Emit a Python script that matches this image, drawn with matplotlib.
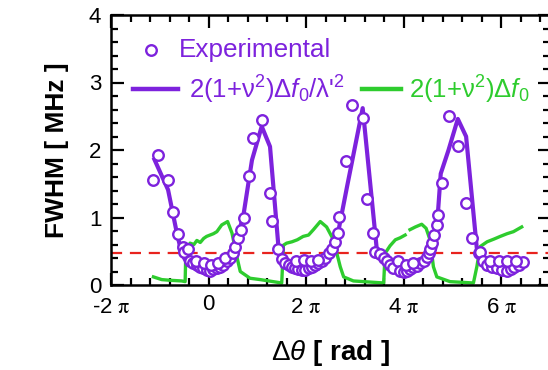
import numpy as np
import matplotlib
matplotlib.use("Agg")
import matplotlib.pyplot as plt
from matplotlib.ticker import MultipleLocator, FixedLocator

plt.rcParams['font.family'] = ['Liberation Sans', 'DejaVu Sans']
plt.rcParams['mathtext.fontset'] = 'custom'
plt.rcParams['mathtext.rm'] = 'Liberation Sans'
plt.rcParams['mathtext.it'] = 'Liberation Sans:italic'
plt.rcParams['mathtext.bf'] = 'Liberation Sans:bold'

PURPLE = '#7d22dd'
GREEN = '#2ecc2e'
RED = '#e8231e'

# ---- data (x in units of pi rad) ----
x_exp = [-1.13, -1.03, -0.84, -0.72, -0.62, -0.53, -0.50, -0.43,
         -0.38, -0.31, -0.24, -0.17, -0.11, -0.04, 0.03, 0.10, 0.17, 0.24, 0.30, 0.37, 0.44,
         -0.25, -0.10, 0.05, 0.20, 0.33,
         0.50, 0.54, 0.60, 0.66, 0.73, 0.83, 0.92, 1.10, 1.26, 1.31, 1.43,
         1.50, 1.57, 1.64, 1.71, 1.77, 1.84, 1.91, 1.98, 2.05, 2.12, 2.19, 2.25, 2.32, 2.39,
         1.80, 1.95, 2.10, 2.25,
         2.46, 2.53, 2.60, 2.65, 2.68, 2.81, 2.94, 3.16, 3.25, 3.37, 3.42, 3.52,
         3.59, 3.66, 3.72, 3.79, 3.89, 3.93, 4.00, 4.07, 4.13, 4.20, 4.27, 4.34, 4.41, 4.48,
         4.05, 4.20,
         4.51, 4.54, 4.58, 4.63, 4.68, 4.70, 4.78, 4.93, 5.12, 5.28, 5.40, 5.54,
         5.56, 5.62, 5.71, 5.81, 5.91, 6.01, 6.12, 6.20, 6.27, 6.36, 6.45,
         5.78, 5.95, 6.12, 6.30]
y_exp = [1.56, 1.92, 1.56, 1.08, 0.75, 0.57, 0.49, 0.54,
         0.35, 0.32, 0.30, 0.27, 0.25, 0.22, 0.21, 0.23, 0.25, 0.27, 0.30, 0.35, 0.40,
         0.36, 0.33, 0.30, 0.33, 0.40,
         0.47, 0.56, 0.70, 0.82, 0.99, 1.62, 2.18, 2.44, 1.36, 0.95, 0.54,
         0.38, 0.32, 0.30, 0.27, 0.25, 0.23, 0.22, 0.22, 0.25, 0.27, 0.30, 0.32, 0.35, 0.40,
         0.35, 0.37, 0.36, 0.37,
         0.47, 0.54, 0.64, 0.77, 1.01, 1.84, 2.67, 2.47, 1.27, 0.77, 0.49, 0.46,
         0.40, 0.35, 0.30, 0.25, 0.36, 0.21, 0.20, 0.21, 0.23, 0.26, 0.28, 0.32, 0.36, 0.41,
         0.30, 0.33,
         0.48, 0.54, 0.62, 0.74, 0.89, 1.03, 1.51, 2.50, 2.06, 1.21, 0.70, 0.47,
         0.49, 0.35, 0.30, 0.27, 0.25, 0.22, 0.21, 0.23, 0.27, 0.30, 0.34,
         0.35, 0.36, 0.36, 0.36]

x_fit = [-1.11, -0.83, -0.65, -0.55, -0.45, -0.30, -0.10, 0.00, 0.15, 0.30, 0.42, 0.51,
         0.71, 0.89, 1.09, 1.26, 1.43, 1.52, 1.70, 1.90, 2.05, 2.25, 2.45, 2.60, 2.84,
         3.16, 3.45, 3.60, 3.80, 4.00, 4.20, 4.40, 4.55, 4.65, 4.76, 4.92, 5.11, 5.28,
         5.50, 5.60, 5.80, 6.00, 6.20, 6.42, 6.30, 6.05, 5.80]
y_fit = [1.86, 1.41, 0.77, 0.47, 0.33, 0.26, 0.20, 0.18, 0.21, 0.27, 0.36, 0.52,
         1.01, 1.85, 2.35, 2.05, 0.59, 0.38, 0.27, 0.20, 0.19, 0.24, 0.38, 0.57, 1.46,
         2.62, 0.52, 0.35, 0.24, 0.18, 0.22, 0.30, 0.42, 0.54, 1.65, 2.00, 2.46, 2.20,
         0.54, 0.38, 0.25, 0.20, 0.22, 0.35, 0.37, 0.37, 0.36]

x_green = [-1.13, -0.96, -0.79, -0.55, -0.48, -0.47, -0.38, -0.30, -0.24, -0.17, -0.10,
           -0.04, 0.10, 0.17, 0.27, 0.39, 0.48, 0.58, 0.65, 0.85, 1.06, 1.50,
           1.535, 1.60, 1.71, 1.82, 1.94, 2.05, 2.15, 2.29, 2.42, 2.56, 2.70, 2.77, 2.97,
           3.59, 3.62, 3.72, 3.83, 3.93, 4.03, np.nan, 4.13, 4.24, 4.37, 4.46, 4.54, 4.61,
           4.68, 4.95, 5.43, 5.50, 5.57, 5.71, 5.85, 5.98, 6.12, 6.25, 6.42]
y_green = [0.12, 0.08, 0.07, 0.06, 0.05, 0.37, 0.62, 0.60, 0.66, 0.63, 0.69,
           0.72, 0.76, 0.79, 0.89, 0.94, 0.77, 0.42, 0.20, 0.10, 0.08, 0.03,
           0.59, 0.62, 0.64, 0.67, 0.72, 0.74, 0.82, 0.94, 0.86, 0.67, 0.27, 0.12, 0.06,
           0.03, 0.47, 0.58, 0.67, 0.70, 0.74, np.nan, 0.82, 0.86, 0.90, 0.84, 0.67, 0.27,
           0.12, 0.05, 0.03, 0.27, 0.57, 0.64, 0.68, 0.72, 0.76, 0.79, 0.86]

threshold = 0.48
x_ticks_pi = [-2, 0, 2, 4, 6]
x_tick_labels = ['-2 ', '0', '2 ', '4 ', '6 ']

fig = plt.figure(figsize=(5.48, 3.70), dpi=100)
ax = fig.add_axes([111/548, 85/370, 439/548, 270/370])

pi = np.pi
ax.axhline(threshold, color=RED, lw=1.6, ls=(0, (5, 3.5)), zorder=1)
ax.plot(np.array(x_green) * pi, y_green, color=GREEN, lw=2.4, zorder=2)
ax.plot(np.array(x_fit) * pi, y_fit, color=PURPLE, lw=3.0, zorder=3)
ax.plot(np.array(x_exp) * pi, y_exp, ls='none', marker='o', ms=7.6, mfc='white',
        mec=PURPLE, mew=1.7, zorder=4)

ax.xaxis.set_major_locator(FixedLocator(np.array(x_ticks_pi) * pi))
ax.xaxis.set_minor_locator(MultipleLocator(0.4 * pi))
ax.xaxis.set_major_formatter(plt.NullFormatter())
ax.yaxis.set_major_locator(MultipleLocator(1))
ax.yaxis.set_minor_locator(MultipleLocator(0.2))
ax.yaxis.set_major_formatter(plt.FormatStrFormatter('%d'))
ax.tick_params(axis='y', labelsize=16, pad=7)
ax.tick_params(which='both', direction='in', top=True, right=True, width=1.6)
ax.tick_params(which='major', length=9)
ax.tick_params(which='minor', length=5)
for s in ax.spines.values():
    s.set_linewidth(1.8)

for xv, lab in zip(x_ticks_pi, x_tick_labels):
    txt = lab + (r'$\mathrm{\pi}$' if lab != '0' else '')
    yoff = -0.13 if lab == '0' else -0.18
    ax.text(xv * pi, yoff, txt, ha='center', va='top', fontsize=16,
            math_fontfamily='stix', transform=ax.transData, clip_on=False)

ax.set_ylabel('FWHM [ MHz ]', fontsize=19, fontweight='bold', labelpad=14)
fig.text(330/548, 1 - 353/370, r'$\mathit{\Delta\theta}$ [ rad ]', fontsize=20,
         fontweight='bold', ha='center', va='center')

def ax_pt(px, py):
    return ((px - 111) / 439, (285 - py) / 270)

ax.plot(*ax_pt(151, 50), transform=ax.transAxes, marker='o', ms=7.6, mfc='white',
        mec=PURPLE, mew=1.7, clip_on=False, scalex=False, scaley=False)
ax.text(*ax_pt(179, 50), 'Experimental', transform=ax.transAxes, color=PURPLE,
        fontsize=18.8, va='center', ha='left')
xa, ya = ax_pt(133, 89)
xb, _ = ax_pt(178, 89)
ax.plot([xa, xb], [ya, ya], transform=ax.transAxes, color=PURPLE, lw=3.2,
        scalex=False, scaley=False)
ax.text(*ax_pt(189, 90), "2(1+ν$^2$)Δ$f_0$/λ'$^2$", transform=ax.transAxes,
        color=PURPLE, fontsize=18.5, va='center', ha='left')
xa, ya = ax_pt(362, 89)
xb, _ = ax_pt(401, 89)
ax.plot([xa, xb], [ya, ya], transform=ax.transAxes, color=GREEN, lw=3.2,
        scalex=False, scaley=False)
ax.text(*ax_pt(409, 90), "2(1+ν$^2$)Δ$f_0$", transform=ax.transAxes,
        color=GREEN, fontsize=18.5, va='center', ha='left')

ax.set_xlim(-2 * pi, 7 * pi)
ax.set_ylim(0, 4)

fig.savefig('out.png', dpi=100)
